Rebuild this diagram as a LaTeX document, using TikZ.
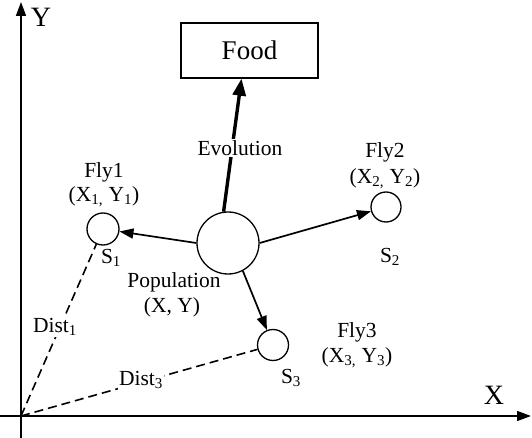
\documentclass[tikz,border=0pt]{standalone}
\usepackage{fontspec}
\setmainfont{Liberation Serif}
\usetikzlibrary{arrows.meta}
\begin{document}
\begin{tikzpicture}[x=1pt,y=-1pt,
  lbl/.style={font=\fontsize{21.5}{24}\selectfont, inner sep=1pt},
  flycircle/.style={circle, draw, line width=1.3pt, minimum size=31pt, inner sep=0pt},
  axis/.style={line width=1.7pt, -{Triangle[length=14pt,width=10pt]}},
  arr/.style={line width=1.7pt, -{Triangle[length=14pt,width=10pt]}},
  dist/.style={line width=1.6pt, dash pattern=on 9pt off 5pt}]
\useasboundingbox (0,0) rectangle (532,438);
% axes
\coordinate (o) at (21,416);
\coordinate (ybot) at (21,438);
\coordinate (ytop) at (21,2);
\coordinate (xleft) at (0,416);
\coordinate (xright) at (531,416);
\draw[axis] (ybot) -- (ytop);
\draw[axis] (xleft) -- (xright);
\node[lbl, font=\fontsize{28}{30}\selectfont] (ylab) at (41,17) {Y};
\node[lbl, font=\fontsize{28}{30}\selectfont] (xlab) at (494,395) {X};
% food
\node[draw, line width=1.3pt, minimum width=137pt, minimum height=55pt, font=\fontsize{27}{29}\selectfont] (food) at (249.5,50.5) {Food};
% population
\node[circle, draw, line width=1.3pt, minimum size=62pt, inner sep=0pt] (pop) at (228,243) {};
\node[lbl] (poplab) at (174,282) {Population};
\node[lbl] (popxy) at (172,307) {(X, Y)};
% flies
\node[flycircle, minimum size=32pt] (f1) at (103,229) {};
\node[flycircle, minimum size=30pt] (f2) at (386,207) {};
\node[flycircle, minimum size=31pt] (f3) at (273,345) {};
\node[lbl] (f1lab) at (104,172) {Fly1};
\node[lbl] (f1xy) at (104,197) {(X\textsubscript{1,} Y\textsubscript{1})};
\node[lbl] (s1) at (111,258) {S\textsubscript{1}};
\node[lbl] (f2lab) at (385,152) {Fly2};
\node[lbl] (f2xy) at (385,179) {(X\textsubscript{2,} Y\textsubscript{2})};
\node[lbl] (s2) at (390,257) {S\textsubscript{2}};
\node[lbl] (f3lab) at (357,332) {Fly3};
\node[lbl] (f3xy) at (357,358) {(X\textsubscript{3,} Y\textsubscript{3})};
\node[lbl] (s3) at (291,378) {S\textsubscript{3}};
% arrows
\draw[arr] (pop.west) -- (f1);
\draw[arr] (pop.east) -- (f2);
\draw[arr] (pop.-62) -- (f3);
\draw[line width=3.4pt, -{Triangle[length=17pt,width=13pt]}] (pop.98) -- ([xshift=-8pt]food.south);
\node[lbl, fill=white] (evo) at (240,148) {Evolution};
% distances
\draw[dist] (o) -- (f1);
\draw[dist] (o) -- (f3);
\node[lbl, fill=white] (d1) at (55,327) {Dist\textsubscript{1}};
\node[lbl, fill=white] (d3) at (141,380) {Dist\textsubscript{3}};
\end{tikzpicture}
\end{document}
